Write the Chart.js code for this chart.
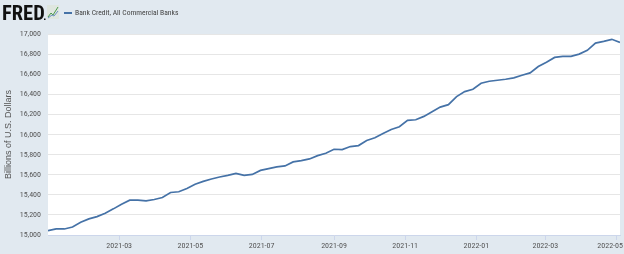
<!DOCTYPE html>
<html>
<head>
<meta charset="utf-8">
<script src="https://cdn.jsdelivr.net/npm/chart.js@4"></script>
<style>
  html, body { margin: 0; padding: 0; background: #e1e9f0; }
  #wrap { width: 624px; height: 254px; }
</style>
</head>
<body>
<div id="wrap"><canvas id="myChart" width="624" height="254"></canvas></div>
<script>
const seriesName = 'Bank Credit, All Commercial Banks';
const axisTitle = 'Billions of U.S. Dollars';

// weekly observations (Wednesdays)
const dates = [
  '2020-12-30',
  '2021-01-06', '2021-01-13', '2021-01-20', '2021-01-27',
  '2021-02-03', '2021-02-10', '2021-02-17', '2021-02-24',
  '2021-03-03', '2021-03-10', '2021-03-17', '2021-03-24', '2021-03-31',
  '2021-04-07', '2021-04-14', '2021-04-21', '2021-04-28',
  '2021-05-05', '2021-05-12', '2021-05-19', '2021-05-26',
  '2021-06-02', '2021-06-09', '2021-06-16', '2021-06-23', '2021-06-30',
  '2021-07-07', '2021-07-14', '2021-07-21', '2021-07-28',
  '2021-08-04', '2021-08-11', '2021-08-18', '2021-08-25',
  '2021-09-01', '2021-09-08', '2021-09-15', '2021-09-22', '2021-09-29',
  '2021-10-06', '2021-10-13', '2021-10-20', '2021-10-27',
  '2021-11-03', '2021-11-10', '2021-11-17', '2021-11-24',
  '2021-12-01', '2021-12-08', '2021-12-15', '2021-12-22', '2021-12-29',
  '2022-01-05', '2022-01-12', '2022-01-19', '2022-01-26',
  '2022-02-02', '2022-02-09', '2022-02-16', '2022-02-23',
  '2022-03-02', '2022-03-09', '2022-03-16', '2022-03-23', '2022-03-30',
  '2022-04-06', '2022-04-13', '2022-04-20', '2022-04-27',
  '2022-05-04',
];

const bankCredit = [
  15043,
  15060, 15060, 15080, 15127,
  15160, 15183, 15217, 15260,
  15307, 15347, 15347, 15340, 15353,
  15373, 15423, 15430, 15463,
  15505, 15533, 15557, 15577,
  15593, 15613, 15593, 15603, 15643,
  15660, 15677, 15687, 15727,
  15740, 15757, 15790, 15813,
  15853, 15850, 15880, 15890, 15940,
  15967, 16010, 16050, 16077,
  16140, 16147, 16180, 16227,
  16273, 16297, 16377, 16427, 16450,
  16510, 16530, 16540, 16550,
  16563, 16590, 16613, 16677,
  16720, 16767, 16777, 16777, 16800,
  16837, 16910, 16927, 16947,
  16917,
];

const xTickLabels = ['2021-03', '2021-05', '2021-07', '2021-09', '2021-11', '2022-01', '2022-03', '2022-05'];

const yMin = 15000;
const yMax = 17000;
const yStep = 200;

const lineColor = '#4572a7';
const smallFont = "'Roboto Condensed', 'Liberation Sans', sans-serif";

const points = dates.map((d, i) => ({ x: Date.parse(d), y: bankCredit[i] }));

// white plot area + FRED header
const backdrop = {
  id: 'backdrop',
  beforeDraw(chart) {
    const { ctx, chartArea: a } = chart;
    ctx.save();
    ctx.fillStyle = '#e1e9f0';
    ctx.fillRect(0, 0, chart.width, chart.height);
    ctx.fillStyle = '#ffffff';
    ctx.fillRect(a.left, a.top, a.right - a.left, a.bottom - a.top);

    // logo text
    ctx.fillStyle = '#111';
    ctx.font = "bold 20.5px 'Roboto Condensed', sans-serif";
    ctx.textBaseline = 'alphabetic';
    ctx.fillText('FRED', 2, 20);
    ctx.fillRect(44, 18.5, 1.5, 1.5);

    // logo icon
    ctx.fillStyle = '#dfe6df';
    ctx.fillRect(47, 5, 12, 14);
    ctx.strokeStyle = '#4a9a4a';
    ctx.lineWidth = 1;
    ctx.beginPath();
    ctx.moveTo(48, 17); ctx.lineTo(51, 13); ctx.lineTo(53, 15); ctx.lineTo(58, 7);
    ctx.stroke();
    ctx.strokeStyle = '#6a8fc0';
    ctx.beginPath();
    ctx.moveTo(48, 18); ctx.lineTo(52, 15); ctx.lineTo(54, 16); ctx.lineTo(58, 11);
    ctx.stroke();

    // legend
    ctx.strokeStyle = lineColor;
    ctx.lineWidth = 2;
    ctx.beginPath();
    ctx.moveTo(64, 13); ctx.lineTo(72, 13);
    ctx.stroke();
    ctx.fillStyle = '#444';
    ctx.font = '7.6px ' + smallFont;
    ctx.textBaseline = 'middle';
    ctx.fillText(seriesName, 75, 13.5);
    ctx.restore();

    // keep the last date label inside the canvas, like the original
    const items = chart.scales.x.getLabelItems(a);
    const last = items[items.length - 1];
    if (last) {
      last.options.textAlign = 'right';
      last.options.translation[0] = chart.width - 1;
    }
  }
};

new Chart(document.getElementById('myChart').getContext('2d'), {
  type: 'line',
  data: {
    datasets: [
      {
        label: seriesName,
        data: points,
        borderColor: lineColor,
        borderWidth: 1.7,
        pointRadius: 0,
        tension: 0,
        fill: false,
      },
    ],
  },
  options: {
    responsive: false,
    animation: false,
    layout: { padding: { top: 34, right: 4, left: 0, bottom: 0 } },
    plugins: {
      legend: { display: false },
      tooltip: { enabled: false },
    },
    scales: {
      x: {
        type: 'linear',
        min: Date.parse(dates[0]),
        max: Date.parse(dates[dates.length - 1]),
        afterBuildTicks: (scale) => {
          scale.ticks = xTickLabels.map((t) => ({ value: Date.parse(t + '-01') }));
        },
        afterFit: (scale) => {
          scale.height = 19;
          scale.paddingLeft = 0;
          scale.paddingRight = 0;
        },
        ticks: {
          autoSkip: false,
          maxRotation: 0,
          padding: 1,
          color: '#555',
          font: { family: smallFont, size: 8 },
          callback: (v) => new Date(v).toISOString().slice(0, 7),
        },
        grid: { drawOnChartArea: false, color: '#ccd6eb', tickLength: 5 },
        border: { display: true, color: '#ccd6eb' },
      },
      y: {
        min: yMin,
        max: yMax,
        afterFit: (scale) => { scale.width = 48; },
        ticks: {
          stepSize: yStep,
          padding: 7,
          color: '#555',
          font: { family: smallFont, size: 8 },
        },
        grid: { color: '#e6e6e6', drawTicks: false },
        border: { display: false },
        title: {
          display: true,
          text: axisTitle,
          color: '#555',
          font: { family: "'Liberation Sans', Arial, sans-serif", size: 9 },
          padding: { top: 3, bottom: 0 },
        },
      },
    },
  },
  plugins: [backdrop],
});
</script>
</body>
</html>
